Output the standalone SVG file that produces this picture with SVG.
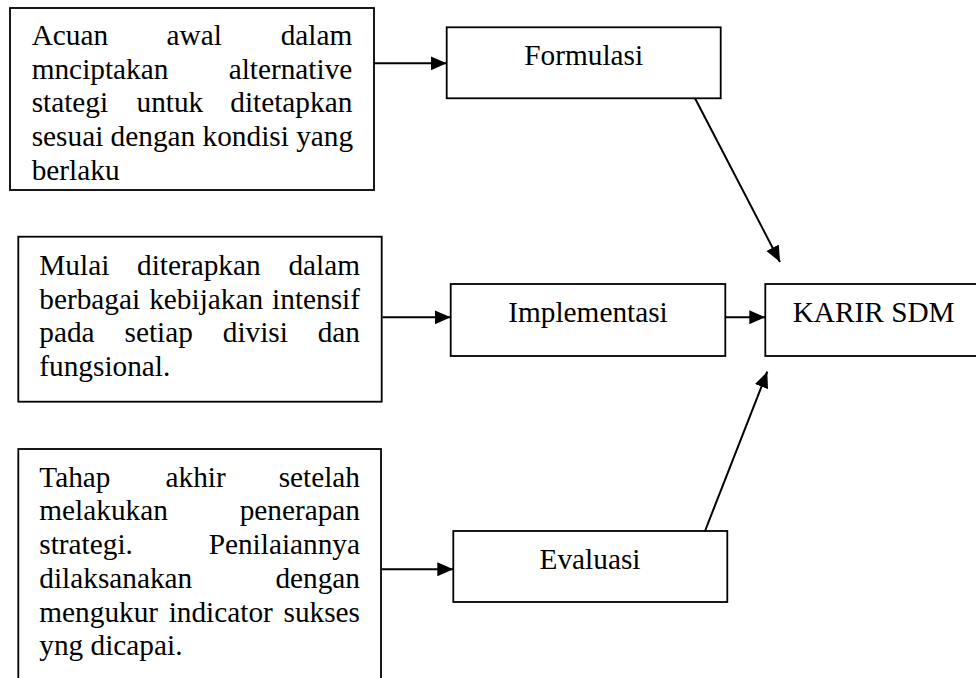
<svg xmlns="http://www.w3.org/2000/svg" width="976" height="678" viewBox="0 0 976 678">
  <style>
    .box { fill: #ffffff; stroke: #000000; stroke-width: 1.8; }
    .t { font-family: "Liberation Serif", "Times New Roman", serif; font-size: 29.3px; fill: #000000; }
    .c { text-anchor: middle; }
    .e { text-anchor: end; }
    .conn { stroke: #000000; stroke-width: 2; fill: none; marker-end: url(#arrow); }
  </style>
  <defs>
    <marker id="arrow" markerUnits="userSpaceOnUse" markerWidth="17" markerHeight="15" refX="16" refY="7" orient="auto">
      <path d="M0,0 L16,7 L0,14 z" fill="#000000"/>
    </marker>
  </defs>
  <rect width="976" height="678" fill="#ffffff"/>

  <g id="node-acuan">
    <rect class="box" x="10" y="8" width="364" height="182"/>
    <text class="t" x="31.7" y="45">Acuan</text>
    <text class="t" x="166.5" y="45">awal</text>
    <text class="t e" x="352.3" y="45">dalam</text>
    <text class="t" x="31.7" y="78.7">mnciptakan</text>
    <text class="t e" x="352.3" y="78.7">alternative</text>
    <text class="t" x="31.7" y="112.4">stategi</text>
    <text class="t" x="136.5" y="112.4">untuk</text>
    <text class="t e" x="352.3" y="112.4">ditetapkan</text>
    <text class="t" x="31.7" y="146.1">sesuai dengan kondisi yang</text>
    <text class="t" x="31.7" y="179.8">berlaku</text>
  </g>

  <g id="node-formulasi">
    <rect class="box" x="446.7" y="27.3" width="274" height="71"/>
    <text class="t c" x="583.7" y="65">Formulasi</text>
  </g>

  <g id="node-mulai">
    <rect class="box" x="18.3" y="236.7" width="363.4" height="165"/>
    <text class="t" x="39.3" y="275">Mulai</text>
    <text class="t" x="137" y="275">diterapkan</text>
    <text class="t e" x="360" y="275">dalam</text>
    <text class="t" x="39.3" y="308.7">berbagai</text>
    <text class="t" x="149.2" y="308.7">kebijakan</text>
    <text class="t e" x="360" y="308.7">intensif</text>
    <text class="t" x="39.3" y="342.4">pada</text>
    <text class="t" x="124.5" y="342.4">setiap</text>
    <text class="t" x="222.8" y="342.4">divisi</text>
    <text class="t e" x="360" y="342.4">dan</text>
    <text class="t" x="39.3" y="376.1">fungsional.</text>
  </g>

  <g id="node-implementasi">
    <rect class="box" x="450.7" y="284" width="274.6" height="72"/>
    <text class="t c" x="588" y="321.7">Implementasi</text>
  </g>

  <g id="node-karir">
    <rect class="box" x="765.3" y="284" width="230" height="72"/>
    <text class="t" x="792.7" y="321.7">KARIR SDM</text>
  </g>

  <g id="node-tahap">
    <rect class="box" x="18.3" y="449" width="362.7" height="245"/>
    <text class="t" x="39.3" y="486.7">Tahap</text>
    <text class="t" x="165.5" y="486.7">akhir</text>
    <text class="t e" x="360" y="486.7">setelah</text>
    <text class="t" x="39.3" y="520.4">melakukan</text>
    <text class="t e" x="360" y="520.4">penerapan</text>
    <text class="t" x="39.3" y="554.1">strategi.</text>
    <text class="t e" x="360" y="554.1">Penilaiannya</text>
    <text class="t" x="39.3" y="587.8">dilaksanakan</text>
    <text class="t e" x="360" y="587.8">dengan</text>
    <text class="t" x="39.3" y="621.5">mengukur</text>
    <text class="t" x="168.7" y="621.5">indicator</text>
    <text class="t e" x="360" y="621.5">sukses</text>
    <text class="t" x="39.3" y="655.2">yng dicapai.</text>
  </g>

  <g id="node-evaluasi">
    <rect class="box" x="453.3" y="531" width="274" height="71"/>
    <text class="t c" x="590" y="569">Evaluasi</text>
  </g>

  <g id="connectors">
    <line class="conn" x1="374" y1="63.3" x2="446.7" y2="63.3"/>
    <line class="conn" x1="382.5" y1="317.3" x2="450.7" y2="317.3"/>
    <line class="conn" x1="382" y1="569.3" x2="453.3" y2="569.3"/>
    <line class="conn" x1="725.3" y1="317.3" x2="765.3" y2="317.3"/>
    <line class="conn" x1="695" y1="98.3" x2="780" y2="262"/>
    <line class="conn" x1="705" y1="531" x2="767.3" y2="371.7"/>
  </g>
</svg>
